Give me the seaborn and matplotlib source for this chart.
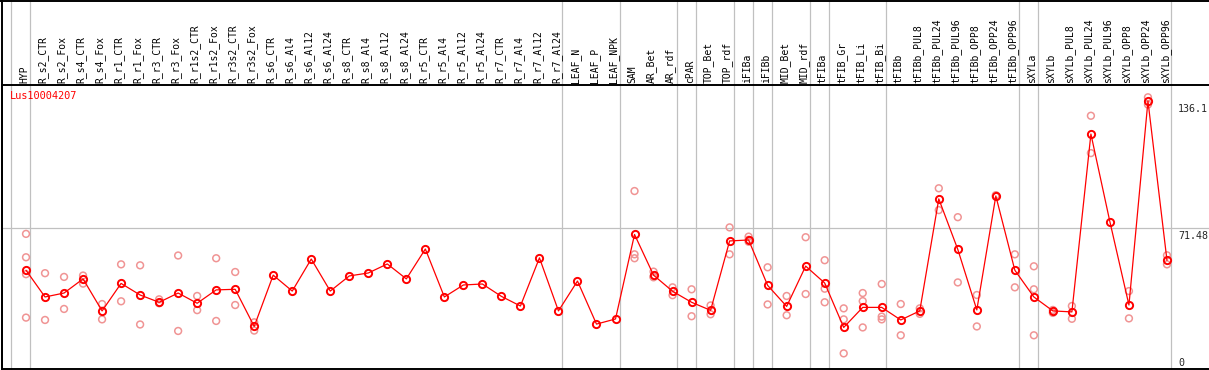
import matplotlib
matplotlib.use("Agg")
import matplotlib.pyplot as plt
import matplotlib.transforms as mtransforms
from matplotlib.lines import Line2D
import numpy as np
import pandas as pd
import seaborn as sns

gene = "Lus10004207"

samples = ["HYP", "R_s2_CTR", "R_s2_Fox", "R_s4_CTR", "R_s4_Fox", "R_r1_CTR",
           "R_r1_Fox", "R_r3_CTR", "R_r3_Fox", "R_r1s2_CTR", "R_r1s2_Fox",
           "R_r3s2_CTR", "R_r3s2_Fox", "R_s6_CTR", "R_s6_Al4", "R_s6_Al12",
           "R_s6_Al24", "R_s8_CTR", "R_s8_Al4", "R_s8_Al12", "R_s8_Al24",
           "R_r5_CTR", "R_r5_Al4", "R_r5_Al12", "R_r5_Al24", "R_r7_CTR",
           "R_r7_Al4", "R_r7_Al12", "R_r7_Al24", "LEAF_N", "LEAF_P", "LEAF_NPK",
           "SAM", "AR_Bet", "AR_rdf", "cPAR", "TOP_Bet", "TOP_rdf", "iFIBa",
           "iFIBb", "MID_Bet", "MID_rdf", "tFIBa", "tFIB_Gr", "tFIB_Li",
           "tFIB_Bi", "tFIBb", "tFIBb_PUL8", "tFIBb_PUL24", "tFIBb_PUL96",
           "tFIBb_OPP8", "tFIBb_OPP24", "tFIBb_OPP96", "sXYLa", "sXYLb",
           "sXYLb_PUL8", "sXYLb_PUL24", "sXYLb_PUL96", "sXYLb_OPP8",
           "sXYLb_OPP24", "sXYLb_OPP96"]

means = [50.0, 36.4, 38.4, 45.6, 29.3, 43.3, 37.4, 33.7, 38.4, 33.2, 40.0,
         40.3, 21.4, 47.5, 39.4, 55.7, 39.4, 47.1, 48.6, 53.2, 45.6, 60.8,
         36.4, 42.5, 43.0, 36.7, 31.8, 56.3, 29.3, 44.5, 22.6, 25.2, 68.2,
         47.5, 39.3, 33.7, 29.6, 64.9, 65.4, 42.3, 31.6, 52.1, 43.5, 20.9,
         31.1, 31.1, 24.7, 29.3, 86.3, 60.6, 29.8, 87.8, 50.0, 36.4, 29.3,
         28.8, 119.3, 74.6, 32.3, 136.1, 55.0]

replicates = [[68.5, 56.6, 48.0, 25.9], [48.5, 24.7], [46.6, 30.3], [47.3, 43.2],
              [32.8, 25.0], [53.0, 34.2], [52.5, 22.4], [35.2, 33.2],
              [57.5, 19.1], [36.9, 29.7], [56.1, 24.2], [49.1, 32.3],
              [23.5, 19.3], [], [], [], [], [], [], [], [], [], [], [], [], [],
              [], [], [], [], [], [], [90.3, 58.1, 56.1], [49.3, 46.4, 46.8],
              [41.3, 37.3], [40.3, 26.6], [32.1, 27.6], [71.8, 58.1],
              [67.1, 64.5, 65.5], [51.5, 32.6], [36.9, 27.1], [66.8, 37.9],
              [55.1, 40.6, 33.7], [30.6, 25.0, 7.7], [38.4, 34.3, 20.9],
              [43.0, 26.4, 25.0], [32.8, 16.9], [30.6, 27.8], [91.7, 80.6],
              [77.0, 43.8], [37.4, 21.4], [88.2, 87.5], [58.1, 41.3],
              [52.0, 40.3, 16.9], [29.8, 28.3], [31.8, 25.3], [128.6, 109.6],
              [], [39.4, 25.5], [138.0, 134.3], [57.6, 53.0]]

# index of the last sample in each tissue group (-1 = left edge)
group_ends = [-1, 0, 28, 31, 34, 35, 37, 38, 39, 41, 42, 45, 52, 53, 60]
scale_marks = [0, 71.48, 136.1]

pos = np.arange(len(samples))
rep_df = pd.DataFrame([(i, v) for i, vals in enumerate(replicates) for v in vals],
                      columns=["pos", "value"])

sns.set_style("white")
plt.rcParams["font.family"] = ["DejaVu Sans Mono"]

W, H = 1209, 370
fig = plt.figure(figsize=(W / 100, H / 100), dpi=100)
ax = fig.add_axes([1.5 / W, 1 / H, 1 - 1.5 / W, 284 / H])

sns.scatterplot(x=rep_df["pos"], y=rep_df["value"], ax=ax, marker="o", s=24,
                facecolors="none", edgecolor="#f09494", linewidth=1.1, zorder=3)
sns.lineplot(x=pos, y=means, ax=ax, color="red", lw=0.9, marker="o",
             markersize=5.2, markerfacecolor="none", markeredgecolor="red",
             markeredgewidth=1.4, zorder=4)

ax.set_xlim(-1.289, 62.21)
ax.set_ylim(-0.25, 144.25)
ax.set_xticks([])
ax.set_yticks([])
ax.set_xlabel("")
ax.set_ylabel("")

for s in ["left", "bottom", "top"]:
    ax.spines[s].set_color("black")
    ax.spines[s].set_linewidth(1.4)
ax.spines["right"].set_visible(False)

ax.axhline(71.48, color="#c0c0c0", lw=0.9, zorder=1)
for g in group_ends:
    ax.axvline(g + 0.21, ymin=0, ymax=369 / 284, color="#c0c0c0", lw=0.9,
               clip_on=False, zorder=1)

xtrans = mtransforms.blended_transform_factory(ax.transData, ax.transAxes)
for i, name in enumerate(samples):
    ax.text(i - 0.1, 1 + 2 / 284, name, transform=xtrans, rotation=90,
            ha="center", va="bottom", fontsize=7, color="black")

ytrans = mtransforms.blended_transform_factory(ax.transAxes, ax.transData)
for m in scale_marks:
    ax.text(0.9743, m + (0.5 if m == 0 else -1.5), f"{m:g}", transform=ytrans,
            ha="left", va="bottom" if m == 0 else "top", fontsize=7.2)

fig.text(10 / W, 1 - 96 / H, gene, color="red", fontsize=7.4, ha="left",
         va="center")

fig.add_artist(Line2D([0, 1], [1 - 0.7 / H, 1 - 0.7 / H], color="black", lw=1.4))
fig.add_artist(Line2D([1.5 / W, 1.5 / W], [0, 1], color="black", lw=1.4))

fig.savefig("out.png", dpi=100)
